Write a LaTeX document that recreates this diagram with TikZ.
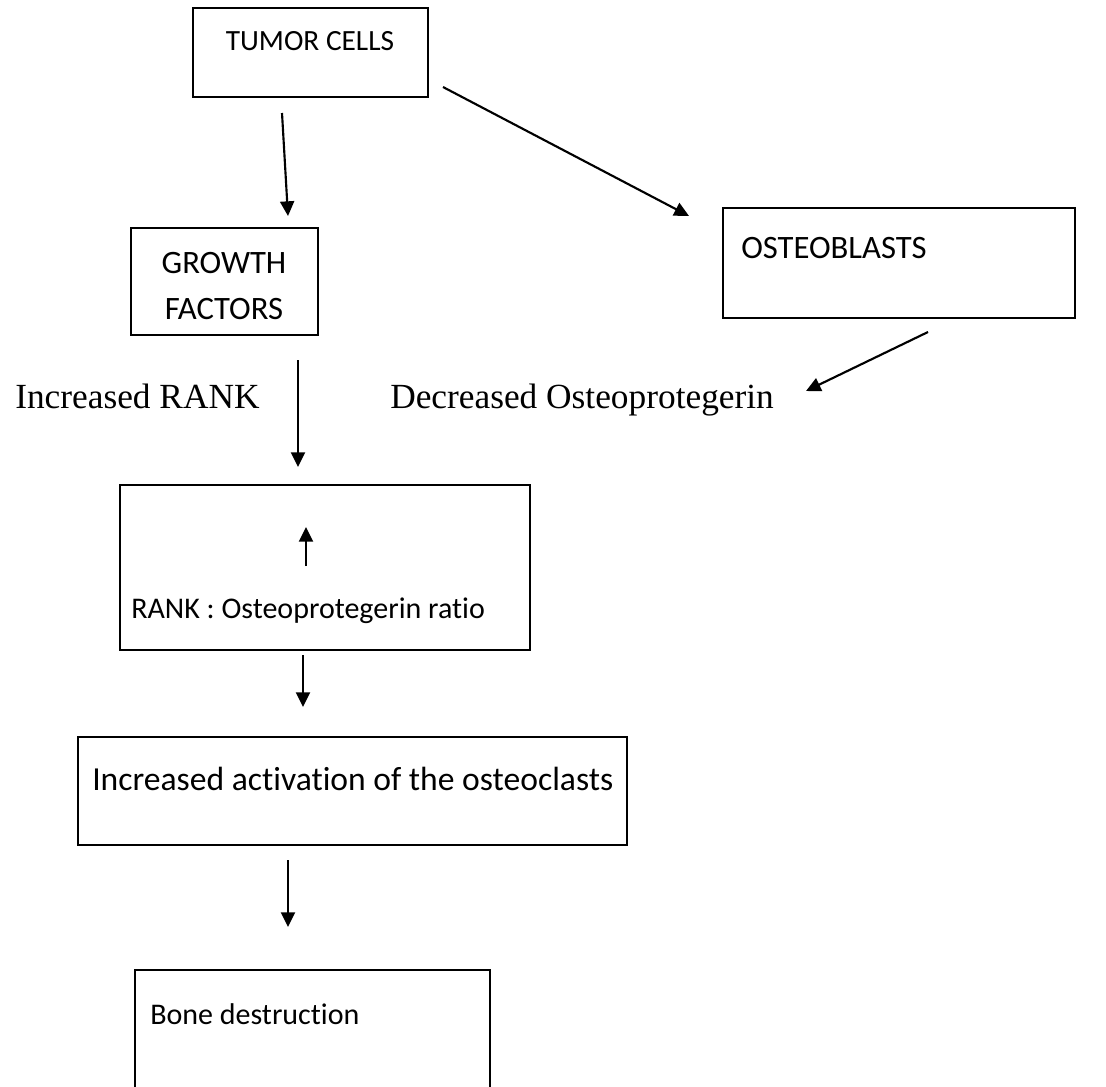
\documentclass[tikz,border=0pt]{standalone}
\usepackage{fontspec}
\setmainfont{Liberation Serif}
\newfontfamily\calib[Ligatures=NoCommon]{Carlito}
\usetikzlibrary{arrows.meta,fit}

\tikzset{
  box/.style={draw,line width=1.1pt,inner sep=0pt},
  boxtxt/.style={font=\calib\fontsize{22.5}{27}\selectfont,inner sep=0pt},
  bigtxt/.style={font=\calib\fontsize{24.5}{29}\selectfont,inner sep=0pt},
  sidetxt/.style={font=\fontsize{26.5}{30}\selectfont,inner sep=0pt},
  arr/.style={line width=1.6pt,-{Triangle[length=11pt,width=10.5pt]}}
}

\begin{document}
\begin{tikzpicture}[x=0.75pt,y=-0.75pt]
\useasboundingbox (0,0) rectangle (1106,1086);
% box corners
\coordinate (T1) at (193,8);
\coordinate (T2) at (428,97);
\coordinate (G1) at (131,228);
\coordinate (G2) at (318,335);
\coordinate (O1) at (723,208);
\coordinate (O2) at (1075,318);
\coordinate (R1) at (120,485);
\coordinate (R2) at (530,650);
\coordinate (A1) at (78,737);
\coordinate (A2) at (627,845);
\coordinate (B1) at (135,970);
\coordinate (B2) at (490,1100);
\node[box,fit=(T1)(T2)] (tumor) {};
\node[box,fit=(G1)(G2)] (growth) {};
\node[box,fit=(O1)(O2)] (osteob) {};
\node[box,fit=(R1)(R2)] (ratio) {};
\node[box,fit=(A1)(A2)] (activ) {};
\node[box,fit=(B1)(B2)] (bone) {};
% texts
\node[boxtxt,font=\calib\fontsize{22}{27}\selectfont,anchor=base] (tumortxt) at (310,50) {TUMOR CELLS};
\node[bigtxt,anchor=base] (growthtxt) at (224,273) {GROWTH};
\node[bigtxt,anchor=base] (factorstxt) at (224,319) {FACTORS};
\node[bigtxt,anchor=base west] (osteobtxt) at (741,258) {OSTEOBLASTS};
\node[sidetxt,anchor=base west] (rank) at (15,408) {Increased RANK};
\node[sidetxt,anchor=base west] (opg) at (390,408) {Decreased Osteoprotegerin};
\node[boxtxt,anchor=base west] (ratiotxt) at (131,618) {RANK : Osteoprotegerin ratio};
\node[bigtxt,font=\calib\fontsize{25.2}{29}\selectfont,anchor=base west] (activtxt) at (92,790) {Increased activation of the osteoclasts};
\node[boxtxt,anchor=base west] (bonetxt) at (150,1024) {Bone destruction};
% arrow ends
\coordinate (a1) at (282,113);
\coordinate (a2) at (288,216);
\coordinate (b1) at (443,87);
\coordinate (b2) at (689,216);
\coordinate (c1) at (928,332);
\coordinate (c2) at (806,391);
\coordinate (d1) at (298,360);
\coordinate (d2) at (298,467);
\coordinate (e1) at (306,566);
\coordinate (e2) at (306,527);
\coordinate (f1) at (303,655);
\coordinate (f2) at (303,707);
\coordinate (g1) at (288,860);
\coordinate (g2) at (288,927);
\draw[arr] (a1)--(a2);
\draw[arr] (b1)--(b2);
\draw[arr] (c1)--(c2);
\draw[arr] (d1)--(d2);
\draw[arr] (e1)--(e2);
\draw[arr] (f1)--(f2);
\draw[arr] (g1)--(g2);
\end{tikzpicture}
\end{document}
